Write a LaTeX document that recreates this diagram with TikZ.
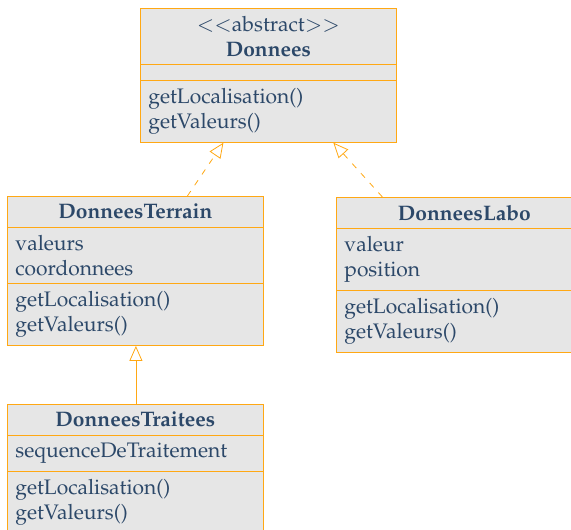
\documentclass[tikz,border=0pt]{standalone}
\usepackage[T1]{fontenc}
\usepackage{mathpazo}
\usepackage{tikz}
\usetikzlibrary{arrows.meta}
\usetikzlibrary{calc}
\usetikzlibrary{shapes.multipart}
\definecolor{umlorange}{RGB}{255,168,20}
\definecolor{umlfill}{RGB}{230,230,230}
\definecolor{umltext}{RGB}{44,72,105}
\newcommand*\umlname[1]{\parbox[t]{240pt}{\centering\textbf{#1}}}

\begin{document}
\begin{tikzpicture}[x=1pt,y=1pt,>={Triangle[open,length=15pt,width=13pt]}]
			\tikzstyle{umlclass}=[rectangle split,rectangle split parts=3,draw=umlorange,fill=umlfill,text=umltext,line width=0.8pt,anchor=north west,text width=240pt,align=left,inner xsep=8pt,inner ysep=7.5pt,font=\fontsize{21}{25}\selectfont];
			\tikzstyle{implements}=[->,dash pattern=on 6pt off 7pt,color=umlorange,line width=0.8pt];
			\tikzstyle{extends}=[->,color=umlorange,line width=0.8pt];
			\useasboundingbox(0,0)rectangle(571,530);
			\node[umlclass](donnees)at(140,522){\umlname{\textmd{$<<$abstract$>>$}\\Donnees}\nodepart{second}\nodepart{third}getLocalisation()\\getValeurs()};
			\node[umlclass](terrain)at(7,334){\umlname{DonneesTerrain}\nodepart{second}valeurs\\coordonnees\nodepart{third}getLocalisation()\\getValeurs()};
			\node[umlclass](labo)at(336,333){\umlname{DonneesLabo}\nodepart{second}valeur\\position\nodepart{third}getLocalisation()\\getValeurs()};
			\node[umlclass](traitees)at(7,126){\umlname{DonneesTraitees}\nodepart{second}sequenceDeTraitement\nodepart{third}getLocalisation()\\getValeurs()};
			\draw[implements]([xshift=52pt]terrain.north)--([xshift=-45pt]donnees.south);
			\draw[implements]([xshift=-82pt]labo.north)--([xshift=65pt]donnees.south);
			\draw[extends]([xshift=0.5pt]traitees.north)--([xshift=0.5pt]terrain.south);
		\end{tikzpicture}
\end{document}
